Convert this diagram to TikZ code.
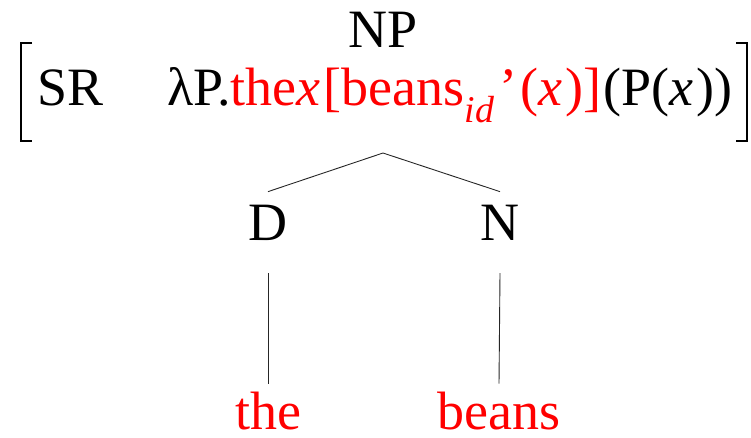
\documentclass[tikz,border=0pt]{standalone}
\usepackage{fontspec}
\setmainfont{Liberation Serif}
\newfontfamily\tms{Liberation Serif}
\definecolor{hl}{RGB}{255,0,0}
\begin{document}
\begin{tikzpicture}[x=1pt,y=-1pt,
  lbl/.style={inner sep=0pt,outer sep=0pt,font=\tms\fontsize{54}{60}\selectfont,anchor=base},
  rd/.style={lbl,text=hl},
  br/.style={line width=2pt},
  edge/.style={line width=0.9pt,black!85}]
\useasboundingbox (0,0) rectangle (751,437);
\node[lbl] (np) at (383,47) {NP};
\node[lbl,anchor=base west] (sr) at (37,105) {SR};
\node[lbl,anchor=base west] (sem) at (167,105) {λP.\textcolor{hl}{the\textit{x}\hspace{3pt}[beans\textsubscript{\textit{id}}\hspace{5pt}’\hspace{3pt}(\textit{x}\hspace{3pt})]}\hspace{2pt}(P(\textit{x}\hspace{3pt}))};
\draw[br] (32,43) -- (21,43) -- (21,141) -- (32,141);
\draw[br] (736,43) -- (747,43) -- (747,141) -- (736,141);
\coordinate (apex) at (383,153);
\node[lbl] (d) at (268,240) {D};
\node[lbl] (n) at (500,240) {N};
\node[rd] (the) at (268,429) {the};
\node[rd] (beans) at (499,429) {beans};
\draw[edge] ([yshift=13pt]d.north) -- (apex) -- ([yshift=13pt]n.north);
\draw[edge] ([yshift=-33pt]d.south) -- ([yshift=8pt]the.north);
\draw[edge] ([yshift=-33pt]n.south) -- ([yshift=8pt]beans.north);
\end{tikzpicture}
\end{document}
